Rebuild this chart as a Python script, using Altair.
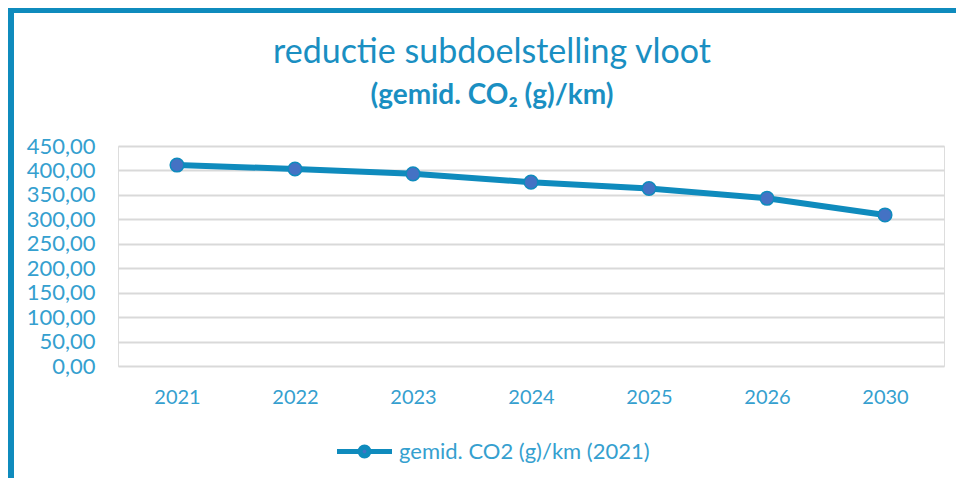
import altair as alt
import pandas as pd

years = ["2021", "2022", "2023", "2024", "2025", "2026", "2030"]
values = [411, 403, 393, 376, 363, 343, 309]
series_name = "gemid. CO2 (g)/km (2021)"
title_text = "reductie subdoelstelling vloot"
subtitle_text = "(gemid. CO₂ (g)/km)"

df = pd.DataFrame({"jaar": years, "waarde": values, "reeks": [series_name] * len(years)})

TEAL = "#0f8bbd"
DOT = "#4472c4"
LABEL = "#35a0cf"
TITLE = "#1a8fc2"
FONT = "Lato"

legend_path = ("M-2,0L-0.32,0M0.32,0L2,0"
               "M-0.32,0A0.32,0.32 0 1,0 0.32,0A0.32,0.32 0 1,0 -0.32,0Z")

color = alt.Color(
    "reeks:N",
    scale=alt.Scale(range=[TEAL]),
    legend=alt.Legend(
        title=None, orient="none", legendX=230, legendY=289,
        direction="horizontal",
        symbolType=legend_path, symbolSize=756, symbolStrokeWidth=5,
        symbolFillColor=DOT, symbolStrokeColor=TEAL, symbolOpacity=1,
        labelFont=FONT, labelFontSize=22, labelColor=LABEL, labelOffset=18,
        labelLimit=500,
    ),
)

x = alt.X("jaar:O", sort=years, title=None,
          scale=alt.Scale(paddingInner=0, paddingOuter=0, align=0.5),
          axis=alt.Axis(labelAngle=0, labelFont=FONT, labelFontSize=20,
                        labelColor=LABEL, ticks=False, domain=False,
                        labelPadding=21, grid=False))
y = alt.Y("waarde:Q", title=None,
          scale=alt.Scale(domain=[0, 450], nice=False),
          axis=alt.Axis(values=list(range(0, 451, 50)),
                        labelExpr="replace(format(datum.value, '.2f'), '.', ',')",
                        labelFont=FONT, labelFontSize=22, labelColor=LABEL,
                        ticks=False, domain=False, labelPadding=23,
                        grid=True, gridColor="#d9d9d9", gridWidth=2))

base = alt.Chart(df)
line = base.mark_line(strokeWidth=6).encode(x=x, y=y, color=color)
pts = base.mark_point(filled=True, size=185, fill=DOT, stroke=TEAL,
                      strokeWidth=1.5, opacity=1).encode(x=x, y=y)

one = pd.DataFrame({"t": [title_text], "s": [subtitle_text]})
left_bar = alt.Chart(one).mark_rule(color=TEAL, strokeWidth=6).encode(
    x=alt.value(-107), y=alt.value(-138), y2=alt.value(332))
top_bar = alt.Chart(one).mark_rule(color=TEAL, strokeWidth=5).encode(
    x=alt.value(-110), x2=alt.value(838), y=alt.value(-135.5))
title_mark = alt.Chart(one).mark_text(
    font=FONT, fontSize=34, color=TITLE, align="center", baseline="alphabetic"
).encode(text="t:N", x=alt.value(374), y=alt.value(-83))
subtitle_mark = alt.Chart(one).mark_text(
    font=FONT, fontSize=28, fontWeight="bold", color=TITLE, align="center",
    baseline="alphabetic"
).encode(text="s:N", x=alt.value(374), y=alt.value(-42))

chart = alt.layer(line, pts, left_bar, top_bar, title_mark, subtitle_mark).properties(
    width=826, height=220,
    autosize=alt.AutoSizeParams(type="none"),
    padding={"left": 110, "top": 138, "right": 12, "bottom": 112},
).configure_view(stroke=None).configure(background="white")

chart.save("out.html", embed_options={"renderer": "svg", "actions": False})
